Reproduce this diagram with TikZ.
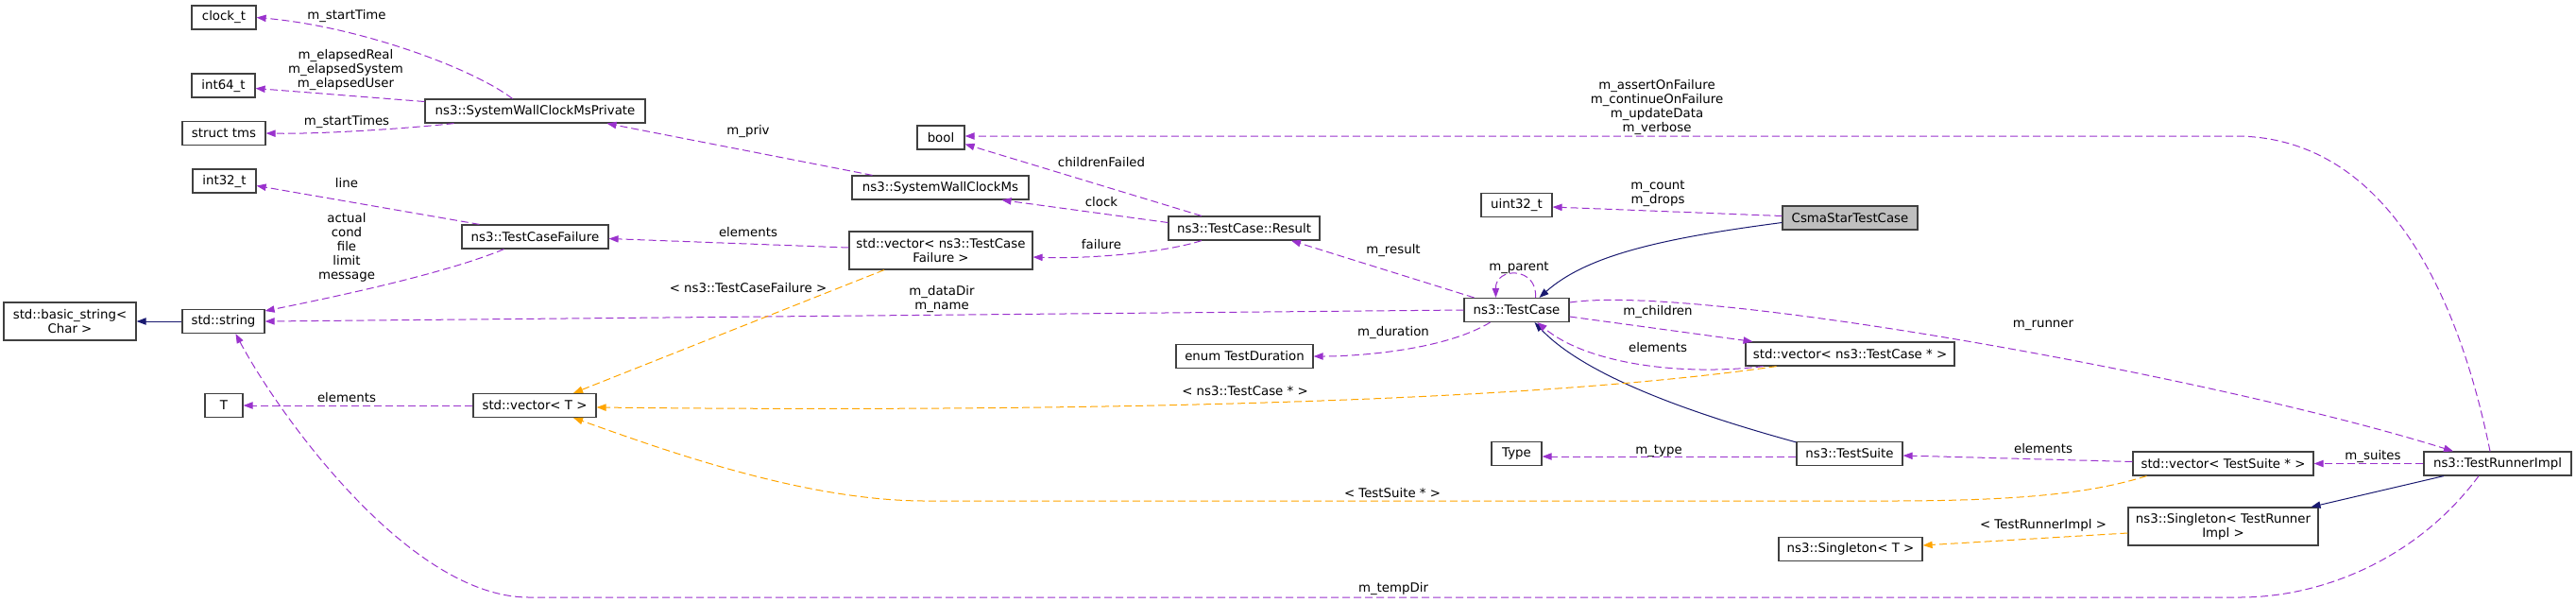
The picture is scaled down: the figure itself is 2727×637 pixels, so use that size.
\documentclass[tikz,border=0pt]{standalone}
\usepackage{fontspec}
\setmainfont{DejaVu Sans}
\usetikzlibrary{arrows.meta,calc}
\definecolor{memberpurple}{HTML}{9A32CD}
\definecolor{tmplorange}{HTML}{FFA500}
\definecolor{basenavy}{HTML}{191970}
\definecolor{boxgray}{HTML}{404040}
\definecolor{focusgray}{HTML}{BFBFBF}

\tikzset{
  cls/.style={draw=boxgray, line width=0.9pt, fill=white, inner sep=2pt, minimum height=25*0.75pt, align=center, font=\fontsize{10}{11.25}\selectfont},
  wd/.style={minimum width=#1*0.75pt},
  ht/.style={minimum height=#1*0.75pt},
  lbl/.style={inner sep=0pt, align=center, font=\fontsize{10}{11.25}\selectfont},
  member/.style={->, memberpurple, dash pattern=on 6pt off 3pt},
  inst/.style={->, tmplorange, dash pattern=on 6pt off 3pt},
  base/.style={->, basenavy},
}

\begin{document}
\begin{tikzpicture}[x=0.75pt,y=-0.75pt,line width=0.75pt,>={Triangle[length=7.5pt,width=5.5pt]}]
\useasboundingbox (0,0) rectangle (2727,637);
% classes
\node[cls,wd=68] (clockt) at (237,18.5) {clock\_t};
\node[cls,wd=67] (intsf) at (236.5,90.5) {int64\_t};
\node[cls,wd=88] (tms) at (237,141) {struct tms};
\node[cls,wd=67] (intte) at (237.5,191.5) {int32\_t};
\node[cls,wd=140,ht=40] (bstring) at (74,340) {std::basic\_string<\\ Char >};
\node[cls,wd=87] (string) at (236.5,340) {std::string};
\node[cls,wd=40] (T) at (237,429) {T};
\node[cls,wd=233] (wcpriv) at (566.5,117.5) {ns3::SystemWallClockMsPrivate};
\node[cls,wd=155] (tcfail) at (566.5,250.5) {ns3::TestCaseFailure};
\node[cls,wd=130] (vecT) at (566,429) {std::vector< T >};
\node[cls,wd=50] (bool) at (996,145.5) {bool};
\node[cls,wd=187] (wcms) at (995.5,198.5) {ns3::SystemWallClockMs};
\node[cls,wd=194,ht=40] (vecfail) at (996,265) {std::vector< ns3::TestCase\\ Failure >};
\node[cls,wd=160] (result) at (1317,241.5) {ns3::TestCase::Result};
\node[cls,wd=145] (duration) at (1317.5,377) {enum TestDuration};
\node[cls,wd=75] (uint) at (1605.5,217) {uint32\_t};
\node[cls,wd=111] (testcase) at (1605.5,328) {ns3::TestCase};
\node[cls,wd=53] (type) at (1605.5,480) {Type};
\node[cls,wd=143,fill=focusgray] (csma) at (1958.5,230.5) {CsmaStarTestCase};
\node[cls,wd=221] (vecTC) at (1958.5,374.5) {std::vector< ns3::TestCase * >};
\node[cls,wd=112] (suite) at (1958,480) {ns3::TestSuite};
\node[cls,wd=152] (singT) at (1959,581) {ns3::Singleton< T >};
\node[cls,wd=191] (vecsuite) at (2353.5,490.5) {std::vector< TestSuite * >};
\node[cls,wd=201,ht=40] (singR) at (2353.5,557) {ns3::Singleton< TestRunner\\ Impl >};
\node[cls,wd=156] (runner) at (2644,490.5) {ns3::TestRunnerImpl};

% inheritance
\draw[base] (string.west) -- (bstring.east);
\draw[base] ($(csma.west)+(0,5)$) .. controls (1760,252) and (1680,270) .. ($(testcase.north)+(24,0)$);
\draw[base] ($(suite.north west)+(0,1)$) .. controls (1800,440) and (1680,400) .. ($(testcase.south)+(19,0)$);
\draw[base] ($(runner.south)+(-57,0)$) -- ($(singR.north)+(93,0)$);

% members
\draw[member] ($(wcpriv.north)+(-24,0)$) .. controls (500,72) and (380,28) .. (clockt.east);
\draw[member] ($(wcpriv.west)+(0,-10)$) -- ($(intsf.east)+(0,3)$);
\draw[member] ($(wcpriv.south)+(-86,0)$) .. controls (430,136) and (340,142) .. (tms.east);
\draw[member] ($(wcms.north)+(-72,0)$) -- ($(wcpriv.south)+(76,0)$);
\draw[member] ($(tcfail.north)+(-59,0)$) -- ($(intte.east)+(0,5)$);
\draw[member] ($(tcfail.south)+(-33,0)$) .. controls (470,290) and (350,315) .. ($(string.east)+(0,-11)$);
\draw[member] ($(vecfail.west)+(0,-3)$) -- ($(tcfail.east)+(0,2)$);
\draw[member] ($(result.north)+(-45,0)$) -- ($(bool.east)+(0,7)$);
\draw[member] ($(result.west)+(0,-6)$) -- ($(wcms.south)+(65,0)$);
\draw[member] ($(result.south)+(-45,0)$) .. controls (1230,268) and (1150,274) .. ($(vecfail.east)+(0,7)$);
\draw[member] ($(runner.north)+(-8,0)$) .. controls (2600,300) and (2520,144) .. (2366,144) -- ($(bool.east)+(0,-1.5)$);
\draw[member] ($(csma.west)+(0,-2)$) -- ($(uint.east)+(0,2)$);
\draw[member] ($(testcase.north)+(-45,0)$) -- ($(result.south)+(50,0)$);
\draw[member] ($(testcase.north)+(20,0)$) .. controls (1628,282) and (1583,282) .. ($(testcase.north)+(-22,0)$);
\draw[member] (testcase.west) -- (string.east);
\draw[member] ($(testcase.south)+(-28,0)$) .. controls (1530,370) and (1440,377) .. (duration.east);
\draw[member] ($(testcase.east)+(0,7)$) -- ($(vecTC.north)+(-103,0)$);
\draw[member] ($(vecTC.south)+(-92,0)$) .. controls (1780,398) and (1680,385) .. ($(testcase.south)+(22,0)$);
\draw[member] ($(testcase.east)+(0,-8)$) .. controls (1800,300) and (2350,400) .. ($(runner.north)+(-47,0)$);
\draw[member] ($(suite.west)+(0,3)$) -- ($(type.east)+(0,3)$);
\draw[member] ($(vecsuite.west)+(0,-2)$) -- ($(suite.east)+(0,2)$);
\draw[member] (runner.west) -- (vecsuite.east);
\draw[member] ($(runner.south)+(-20,0)$) .. controls (2560,590) and (2460,632) .. (2371,632) -- (560,632) .. controls (430,632) and (290,430) .. ($(string.south)+(13,0)$);
\draw[member] (vecT.west) -- (T.east);

% template instances
\draw[inst] ($(vecfail.south)+(-60,0)$) -- ($(vecT.north)+(41,0)$);
\draw[inst] ($(vecTC.south)+(-78,0)$) .. controls (1600,428) and (1100,436) .. ($(vecT.east)+(0,2)$);
\draw[inst] ($(vecsuite.south)+(-81,0)$) .. controls (2220,520) and (2150,530) .. (2000,530) -- (980,530) .. controls (850,530) and (700,475) .. ($(vecT.south)+(41,0)$);
\draw[inst] ($(singR.west)+(0,7)$) -- ($(singT.east)+(0,-4)$);

% labels
\node[lbl] (lStartTime) at (367,17) {m\_startTime};
\node[lbl] (lElapsed) at (366,74) {m\_elapsedReal\\ m\_elapsedSystem\\ m\_elapsedUser};
\node[lbl] (lStartTimes) at (367,129) {m\_startTimes};
\node[lbl] (lPriv) at (792,139) {m\_priv};
\node[lbl] (lLine) at (367,194) {line};
\node[lbl] (lFields) at (367,262) {actual\\ cond\\ file\\ limit\\ message};
\node[lbl] (lElemFail) at (792,246) {elements};
\node[lbl] (lChildrenFailed) at (1166,172) {childrenFailed};
\node[lbl] (lClock) at (1166,214) {clock};
\node[lbl] (lFailure) at (1166,259) {failure};
\node[lbl] (lFlags) at (1754,113.5) {m\_assertOnFailure\\ m\_continueOnFailure\\ m\_updateData\\ m\_verbose};
\node[lbl] (lCount) at (1755,205) {m\_count\\ m\_drops};
\node[lbl] (lResult) at (1475,265) {m\_result};
\node[lbl] (lParent) at (1608,283) {m\_parent};
\node[lbl] (lDataDir) at (997,316) {m\_dataDir\\ m\_name};
\node[lbl] (lDuration) at (1475,352) {m\_duration};
\node[lbl] (lChildren) at (1755,330) {m\_children};
\node[lbl] (lElemTC) at (1755,368) {elements};
\node[lbl] (lRunner) at (2163,344) {m\_runner};
\node[lbl] (lType) at (1756,477) {m\_type};
\node[lbl] (lElemSuite) at (2163,475) {elements};
\node[lbl] (lSuites) at (2512,483) {m\_suites};
\node[lbl] (lTempDir) at (1475,623) {m\_tempDir};
\node[lbl] (lElemT) at (367,421) {elements};
\node[lbl] (lInstFail) at (792,305) {< ns3::TestCaseFailure >};
\node[lbl] (lInstTC) at (1318,414) {< ns3::TestCase * >};
\node[lbl] (lInstSuite) at (1474,522) {< TestSuite * >};
\node[lbl] (lInstRunner) at (2163,556) {< TestRunnerImpl >};
\end{tikzpicture}
\end{document}
